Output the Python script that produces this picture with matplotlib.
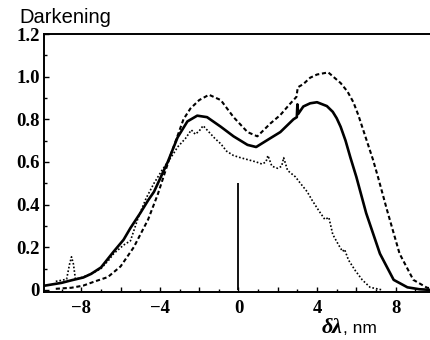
import matplotlib
matplotlib.use("Agg")
import matplotlib.pyplot as plt
from matplotlib.ticker import MultipleLocator, FixedLocator, FuncFormatter

# ---- data ----
solid_x = [-9.85, -9.0, -8.5, -7.9, -7.5, -7.0, -6.35, -5.85, -5.5, -5.0, -4.6, -4.3, -4.0,
           -3.6, -3.1, -2.6, -2.1, -1.6, -0.9, -0.25, 0.46, 0.9, 1.6, 2.13, 2.8, 2.97,
           3.0, 3.04, 3.3, 3.65, 4.0, 4.5, 4.8, 5.0, 5.2, 5.45, 5.7, 6.0, 6.5, 7.2, 7.9, 8.6, 9.2, 9.75]
solid_y = [0.02, 0.033, 0.045, 0.058, 0.075, 0.105, 0.18, 0.235, 0.29, 0.36, 0.42, 0.46, 0.52,
           0.60, 0.715, 0.79, 0.817, 0.81, 0.765, 0.72, 0.68, 0.67, 0.71, 0.74, 0.80, 0.81,
           0.87, 0.825, 0.86, 0.875, 0.88, 0.862, 0.835, 0.805, 0.765, 0.70, 0.62, 0.53, 0.36, 0.17,
           0.047, 0.012, 0.003, 0.0]

dash_x = [-9.3, -8.5, -7.9, -7.3, -6.65, -6.0, -5.33, -4.6, -4.1, -3.5, -2.8, -2.45, -2.0,
          -1.5, -0.9, -0.25, 0.46, 0.96, 1.62, 2.13, 2.6, 2.95, 3.02, 3.3, 3.65, 4.0, 4.57,
          5.2, 5.55, 5.85, 6.1, 6.35, 6.6, 6.85, 7.1, 7.56, 8.2, 8.9, 9.6, 9.75]
dash_y = [0.005, 0.01, 0.02, 0.04, 0.06, 0.11, 0.20, 0.33, 0.45, 0.62, 0.80, 0.85, 0.89,
          0.915, 0.89, 0.81, 0.74, 0.72, 0.78, 0.82, 0.87, 0.905, 0.95, 0.965, 0.995, 1.01, 1.02,
          0.97, 0.93, 0.88, 0.82, 0.75, 0.68, 0.61, 0.53, 0.375, 0.17, 0.047, 0.01, 0.008]

dot_x = [-9.3, -9.0, -8.75, -8.6, -8.5, -8.4, -8.3, -7.9, -7.4, -7.0, -6.6, -6.35, -5.85, -5.5,
         -5.1, -4.7, -4.3, -3.9, -3.6, -3.3, -3.1, -2.7, -2.4, -2.2, -2.0, -1.8, -1.5, -1.2,
         -0.9, -0.6, -0.25, 0.1, 0.5, 0.9, 1.2, 1.4, 1.5, 1.7, 2.0, 2.2, 2.3, 2.5, 2.9, 3.15,
         3.5, 3.75, 4.1, 4.4, 4.6, 4.8, 5.1, 5.3, 5.4, 5.6, 5.95, 6.3, 6.7, 7.3]
dot_y = [0.04, 0.045, 0.05, 0.12, 0.155, 0.12, 0.05, 0.06, 0.08, 0.10, 0.14, 0.17, 0.21, 0.23,
         0.34, 0.43, 0.50, 0.56, 0.60, 0.64, 0.67, 0.71, 0.75, 0.73, 0.745, 0.77, 0.74, 0.71,
         0.685, 0.65, 0.63, 0.62, 0.61, 0.60, 0.59, 0.60, 0.63, 0.58, 0.57, 0.58, 0.62, 0.56, 0.53, 0.50,
         0.46, 0.42, 0.37, 0.33, 0.34, 0.26, 0.21, 0.18, 0.19, 0.14, 0.09, 0.047, 0.012, 0.0]

marker_x = [0.0]
marker_top = [0.5]

x_ticklabels = {-8: "\u22128", -4: "\u22124", 0: "0", 4: "4", 8: "8"}
y_ticks = [0, 0.2, 0.4, 0.6, 0.8, 1.0, 1.2]

# ---- figure ----
W, H = 430, 340
fig = plt.figure(figsize=(W / 100, H / 100), dpi=100)
ax = fig.add_axes([44 / W, 48 / H, (W - 44) / W, (292 - 34) / H])

ax.plot(solid_x, solid_y, color="black", lw=1.9, solid_joinstyle="round")
ax.plot(dash_x, dash_y, color="black", lw=1.5, dashes=(2.0, 1.3))
ax.plot(dot_x, dot_y, color="black", lw=1.2, dashes=(1.0, 1.2))
ax.vlines(marker_x, 0, marker_top, colors="black", lw=1.3)

ax.set_xlim(-9.9, 9.75)
ax.set_ylim(-0.01, 1.2)

for s in ["left", "bottom", "top"]:
    ax.spines[s].set_linewidth(1.4)
ax.spines["right"].set_visible(False)

ax.xaxis.set_major_locator(MultipleLocator(2))
ax.xaxis.set_minor_locator(MultipleLocator(1))
ax.xaxis.set_major_formatter(FuncFormatter(lambda v, p: x_ticklabels.get(int(round(v)), "")))
ax.yaxis.set_major_locator(FixedLocator(y_ticks))
ax.yaxis.set_minor_locator(MultipleLocator(0.1))
ax.yaxis.set_major_formatter(FuncFormatter(lambda v, p: "0" if abs(v) < 1e-9 else f"{v:.1f}"))

ax.tick_params(which="both", direction="in", top=False, right=False, width=1.0)
ax.tick_params(which="major", length=3.6)
ax.tick_params(which="minor", length=2.2)
ax.tick_params(axis="x", which="major", pad=6)
ax.tick_params(axis="y", which="major", pad=3)

for lab in ax.get_xticklabels() + ax.get_yticklabels():
    lab.set_family("Liberation Serif")
    lab.set_fontweight("bold")
    lab.set_fontsize(13.5)

fig.text(19 / W, 1 - 23 / H, "Darkening", family="Liberation Sans", fontsize=14.5,
         ha="left", va="baseline")
t1 = fig.text(322 / W, 1 - 333 / H, "\u03b4\u03bb", family="Liberation Serif", fontweight="bold",
              style="italic", fontsize=16, ha="left", va="baseline")
fig.canvas.draw()
bb = t1.get_window_extent(renderer=fig.canvas.get_renderer())
fig.text(bb.x1 / W, 1 - 333 / H, ", nm", family="Liberation Sans", fontsize=12.5,
         ha="left", va="baseline")

fig.savefig("out.png", dpi=100)
